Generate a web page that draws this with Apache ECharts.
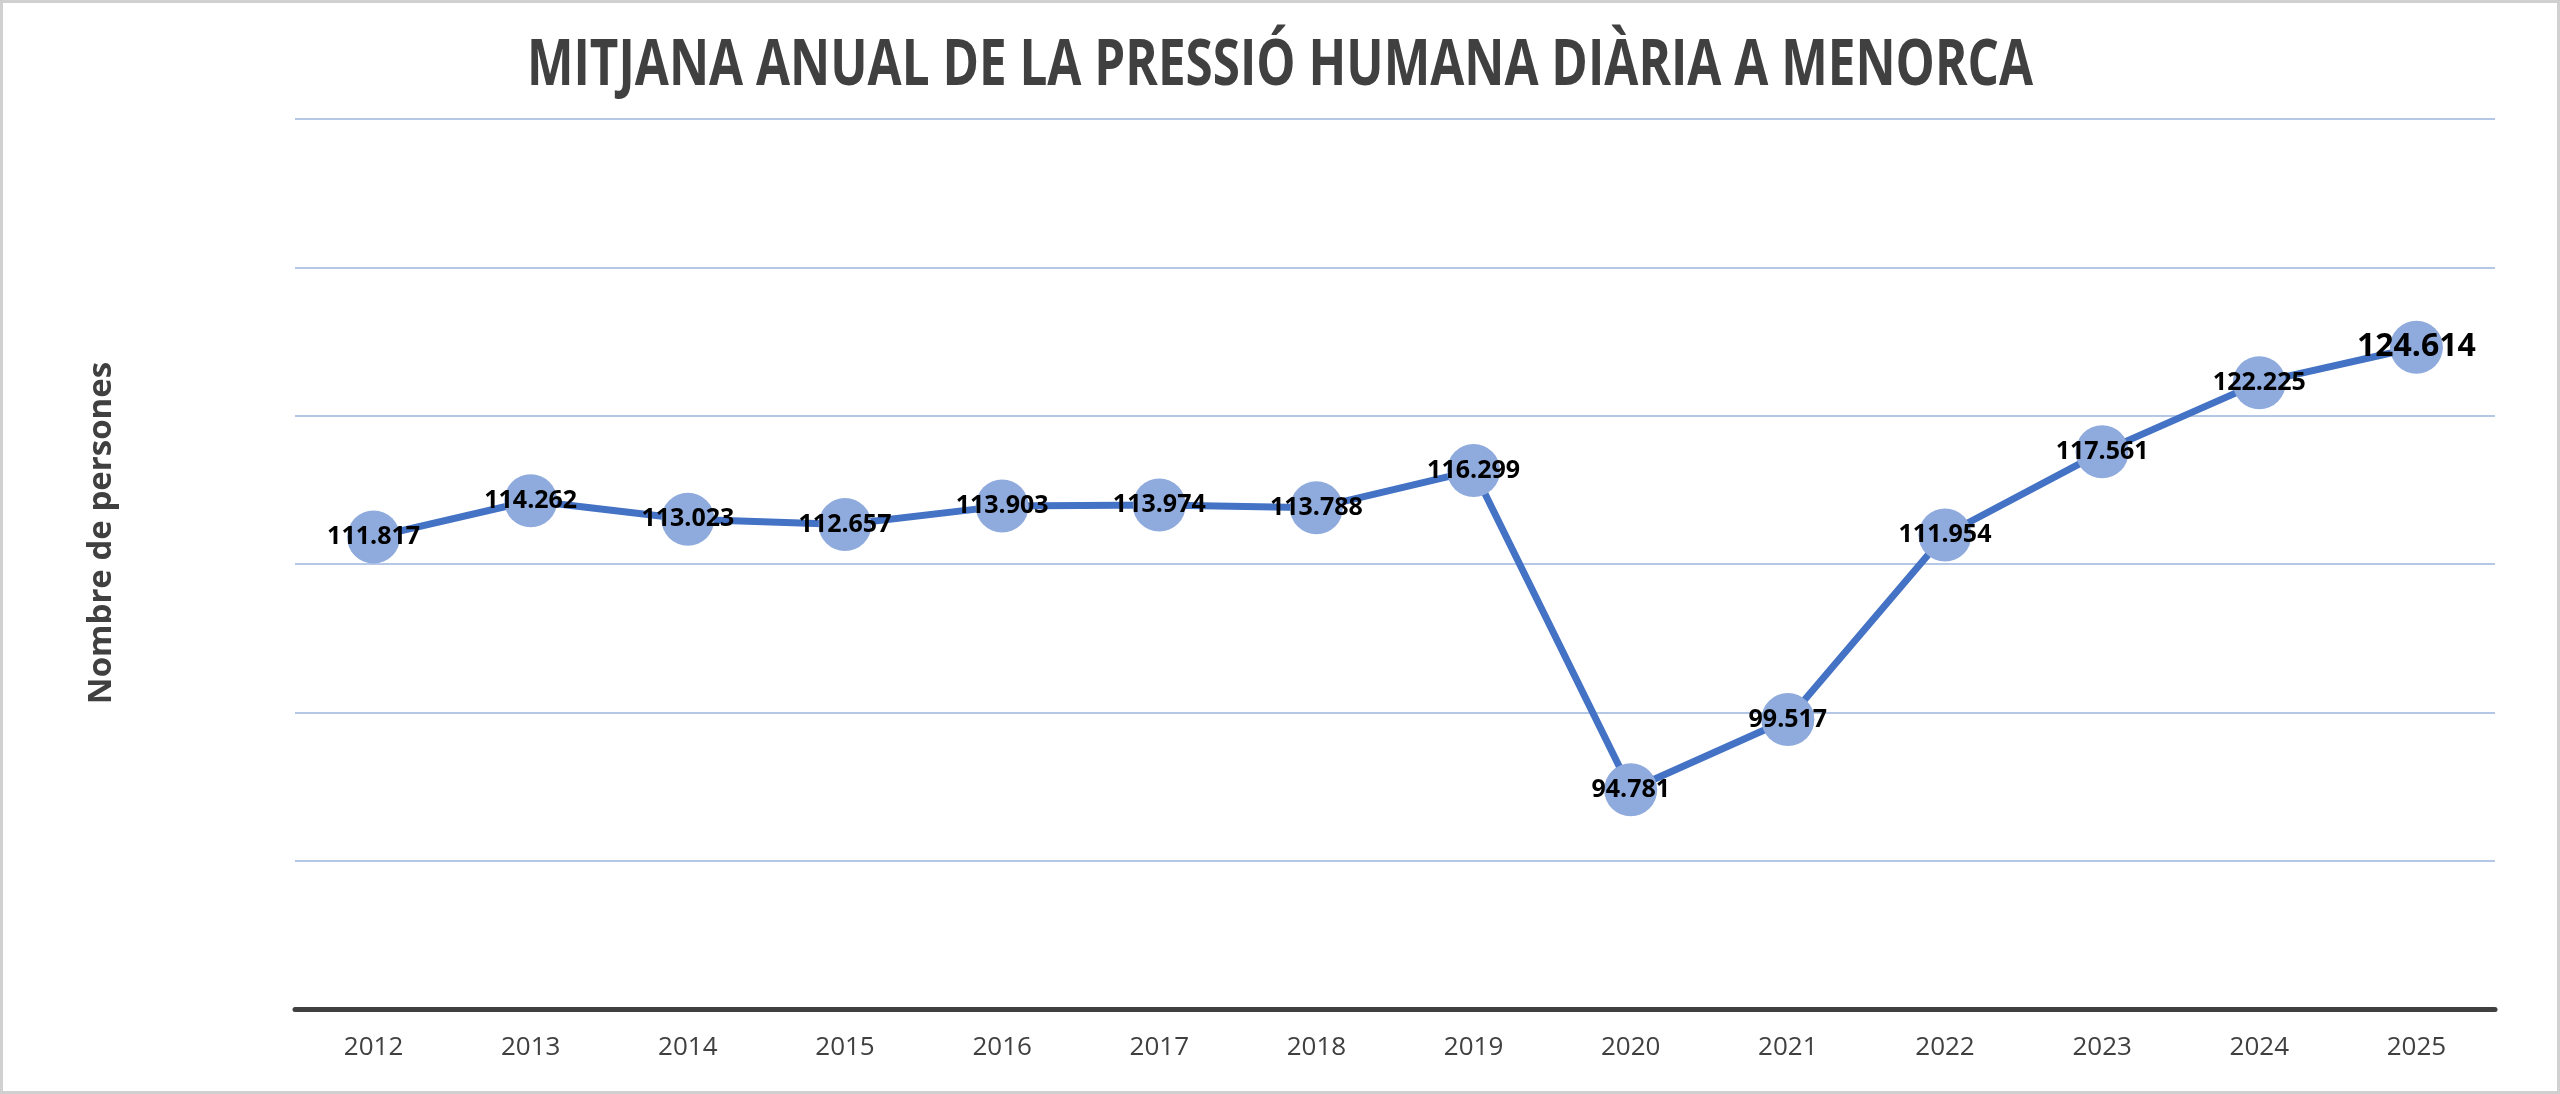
<!DOCTYPE html>
<html>
<head>
<meta charset="utf-8">
<script src="https://cdn.jsdelivr.net/npm/echarts@6/dist/echarts.min.js"></script>
<style>
  html, body { margin: 0; padding: 0; background: #fff; }
  #chart { width: 2560px; height: 1094px; box-sizing: border-box; border: 3px solid #d0d0d0; }
</style>
</head>
<body>
<div id="chart"></div>
<script>
// dades (persones/dia, mitjana anual)
const years = ['2012', '2013', '2014', '2015', '2016', '2017', '2018', '2019', '2020', '2021', '2022', '2023', '2024', '2025'];
const pressio = [111817, 114262, 113023, 112657, 113903, 113974, 113788, 116299, 94781, 99517, 111954, 117561, 122225, 124614];
const titol = 'MITJANA ANUAL DE LA PRESSIÓ HUMANA DIÀRIA A MENORCA';
const nomEixY = 'Nombre de persones';

// separador de milers amb punt
const fmt = v => String(v).replace(/\B(?=(\d{3})+(?!\d))/g, '.');

const chart = echarts.init(document.getElementById('chart'));

const seriesData = pressio.map((v, i) => {
  if (i === pressio.length - 1) {
    // l'últim any amb etiqueta més gran
    return { value: v, label: { fontSize: 32 } };
  }
  return v;
});

const option = {
  backgroundColor: '#fff',
  textStyle: { fontFamily: 'Open Sans' },
  graphic: [{
    type: 'text',
    left: 'center',
    top: 31,
    style: {
      text: titol,
      font: 'bold 65px "Open Sans"',
      fill: '#404040'
    },
    scaleX: 0.76,
    originX: 0
  }, {
    // títol de l'eix Y
    type: 'text',
    x: 99,
    y: 530,
    rotation: Math.PI / 2,
    style: {
      text: nomEixY,
      font: 'bold 33px "Open Sans"',
      fill: '#404040',
      align: 'center',
      verticalAlign: 'middle'
    }
  }],
  grid: { left: 292, right: 62, top: 116, bottom: 82 },
  xAxis: {
    type: 'category',
    data: years,
    axisLine: { lineStyle: { color: '#404040', width: 5 } },
    axisTick: { show: false },
    axisLabel: { color: '#404040', fontSize: 26, margin: 26 }
  },
  yAxis: {
    type: 'value',
    min: 80000,
    max: 140000,
    interval: 10000,
    axisLabel: { show: false },
    axisLine: { show: false },
    axisTick: { show: false },
    splitLine: { lineStyle: { color: '#b4c7e7', width: 2 } }
  },
  series: [{
    type: 'line',
    data: seriesData,
    symbol: 'circle',
    symbolSize: 53,
    lineStyle: { color: '#4472c4', width: 7 },
    itemStyle: { color: '#8faadc' },
    label: {
      show: true,
      position: 'inside',
      color: '#000',
      fontSize: 25,
      fontWeight: 'bold',
      formatter: p => fmt(p.value)
    },
    z: 3
  }],
  animation: false
};

chart.setOption(option);
window.addEventListener('resize', () => chart.resize());
</script>
</body>
</html>
